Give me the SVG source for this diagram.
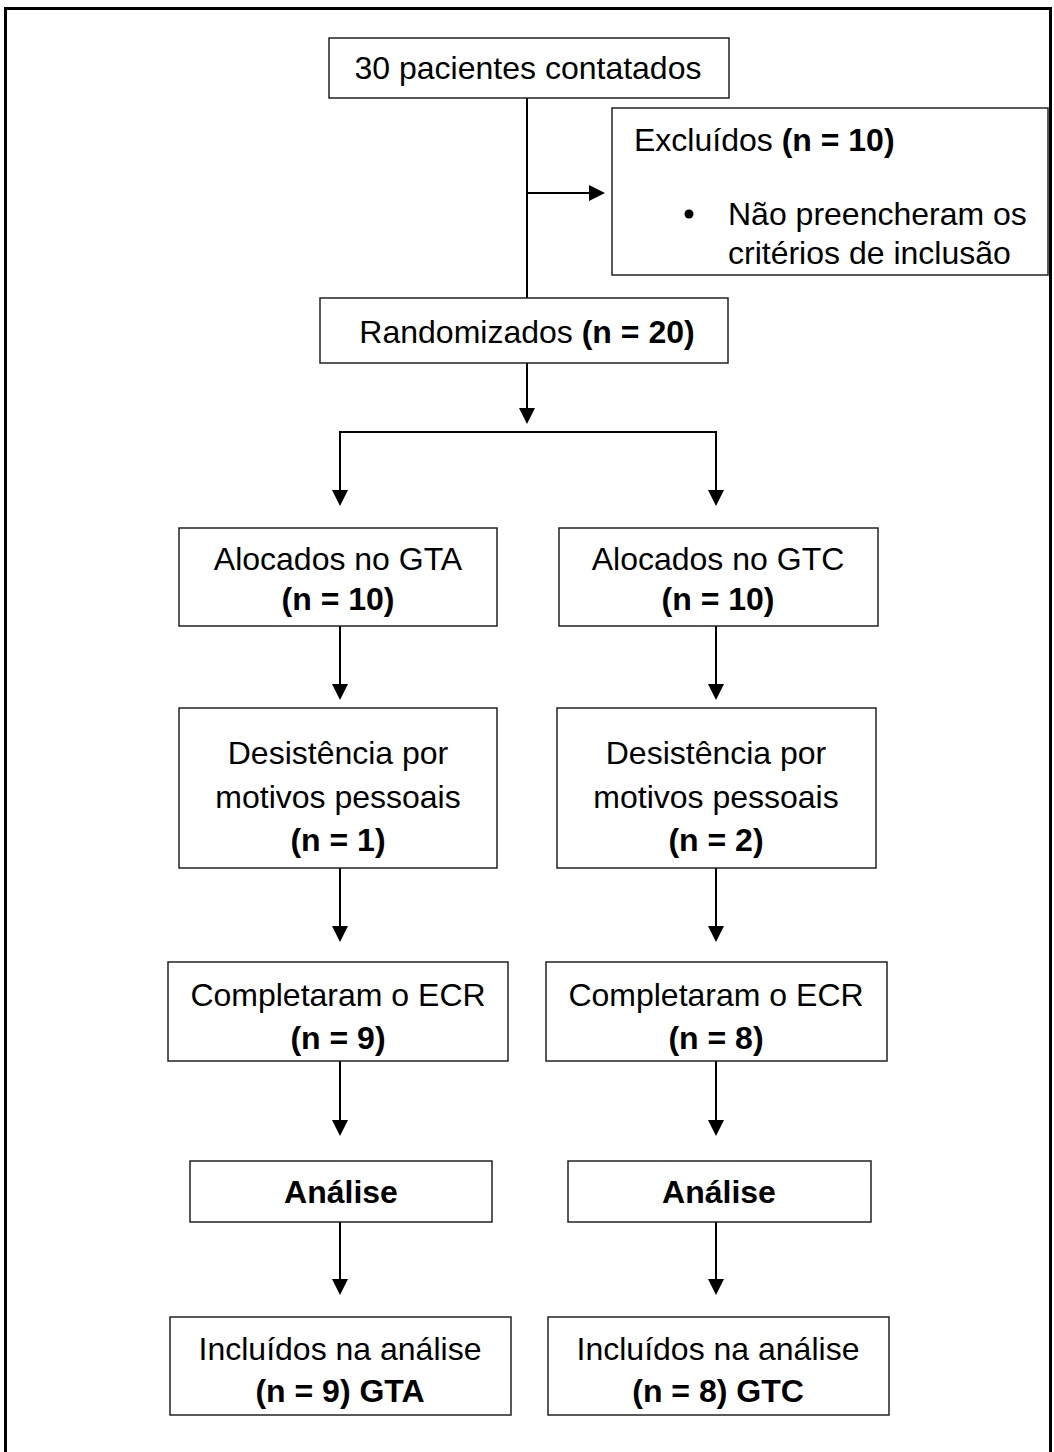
<svg xmlns="http://www.w3.org/2000/svg" width="1054" height="1452" viewBox="0 0 1054 1452">
<style>
.box{fill:#fff;stroke:#222;stroke-width:1.5}
.t{font-family:"Liberation Sans",Arial,sans-serif;font-size:32px;fill:#000;text-anchor:middle}
.b{font-weight:bold}
.c{stroke:#000;stroke-width:2;fill:none}
</style>
<defs>
<marker id="ah" markerUnits="userSpaceOnUse" markerWidth="18" markerHeight="18" refX="6" refY="8" orient="auto">
<path d="M0,0 L16,8 L0,16 Z" fill="#000"/>
</marker>
</defs>
<rect x="5.5" y="8.5" width="1045" height="1460" fill="#fff" stroke="#000" stroke-width="3"/>
<g id="connectors">
<path class="c" d="M527,98 V298"/>
<path class="c" d="M527,193 H595" marker-end="url(#ah)"/>
<path class="c" d="M527,363 V414" marker-end="url(#ah)"/>
<path class="c" d="M340,432 H716"/>
<path class="c" d="M340,431 V496" marker-end="url(#ah)"/>
<path class="c" d="M716,431 V496" marker-end="url(#ah)"/>
<path class="c" d="M340,626 V690" marker-end="url(#ah)"/>
<path class="c" d="M716,626 V690" marker-end="url(#ah)"/>
<path class="c" d="M340,868 V932" marker-end="url(#ah)"/>
<path class="c" d="M716,868 V932" marker-end="url(#ah)"/>
<path class="c" d="M340,1061 V1126" marker-end="url(#ah)"/>
<path class="c" d="M716,1061 V1126" marker-end="url(#ah)"/>
<path class="c" d="M340,1222 V1285" marker-end="url(#ah)"/>
<path class="c" d="M716,1222 V1285" marker-end="url(#ah)"/>
</g>
<g id="n-contatados">
<rect class="box" x="329" y="38" width="400" height="60"/>
<text class="t" x="528" y="79">30 pacientes contatados</text>
</g>
<g id="n-excluidos">
<rect class="box" x="612" y="108" width="436" height="167"/>
<text class="t" x="634" y="151" style="text-anchor:start">Excluídos <tspan class="b">(n = 10)</tspan></text>
<circle cx="689" cy="214" r="4.5" fill="#000"/>
<text class="t" x="728" y="225" style="text-anchor:start">Não preencheram os</text>
<text class="t" x="728" y="264" style="text-anchor:start">critérios de inclusão</text>
</g>
<g id="n-randomizados">
<rect class="box" x="320" y="298" width="408" height="65"/>
<text class="t" x="527" y="343">Randomizados <tspan class="b">(n = 20)</tspan></text>
</g>
<g id="n-aloc-gta">
<rect class="box" x="179" y="528" width="318" height="98"/>
<text class="t" x="338" y="570">Alocados no GTA</text>
<text class="t b" x="338" y="610">(n = 10)</text>
</g>
<g id="n-aloc-gtc">
<rect class="box" x="559" y="528" width="319" height="98"/>
<text class="t" x="718" y="570">Alocados no GTC</text>
<text class="t b" x="718" y="610">(n = 10)</text>
</g>
<g id="n-des-gta">
<rect class="box" x="179" y="708" width="318" height="160"/>
<text class="t" x="338" y="764">Desistência por</text>
<text class="t" x="338" y="808">motivos pessoais</text>
<text class="t b" x="338" y="851">(n = 1)</text>
</g>
<g id="n-des-gtc">
<rect class="box" x="557" y="708" width="319" height="160"/>
<text class="t" x="716" y="764">Desistência por</text>
<text class="t" x="716" y="808">motivos pessoais</text>
<text class="t b" x="716" y="851">(n = 2)</text>
</g>
<g id="n-comp-gta">
<rect class="box" x="168" y="962" width="340" height="99"/>
<text class="t" x="338" y="1006">Completaram o ECR</text>
<text class="t b" x="338" y="1049">(n = 9)</text>
</g>
<g id="n-comp-gtc">
<rect class="box" x="546" y="962" width="341" height="99"/>
<text class="t" x="716" y="1006">Completaram o ECR</text>
<text class="t b" x="716" y="1049">(n = 8)</text>
</g>
<g id="n-anal-gta">
<rect class="box" x="190" y="1161" width="302" height="61"/>
<text class="t b" x="341" y="1203">Análise</text>
</g>
<g id="n-anal-gtc">
<rect class="box" x="568" y="1161" width="303" height="61"/>
<text class="t b" x="719" y="1203">Análise</text>
</g>
<g id="n-incl-gta">
<rect class="box" x="170" y="1317" width="341" height="98"/>
<text class="t" x="340" y="1360">Incluídos na análise</text>
<text class="t b" x="340" y="1402">(n = 9) GTA</text>
</g>
<g id="n-incl-gtc">
<rect class="box" x="548" y="1317" width="341" height="98"/>
<text class="t" x="718" y="1360">Incluídos na análise</text>
<text class="t b" x="718" y="1402">(n = 8) GTC</text>
</g>
</svg>
